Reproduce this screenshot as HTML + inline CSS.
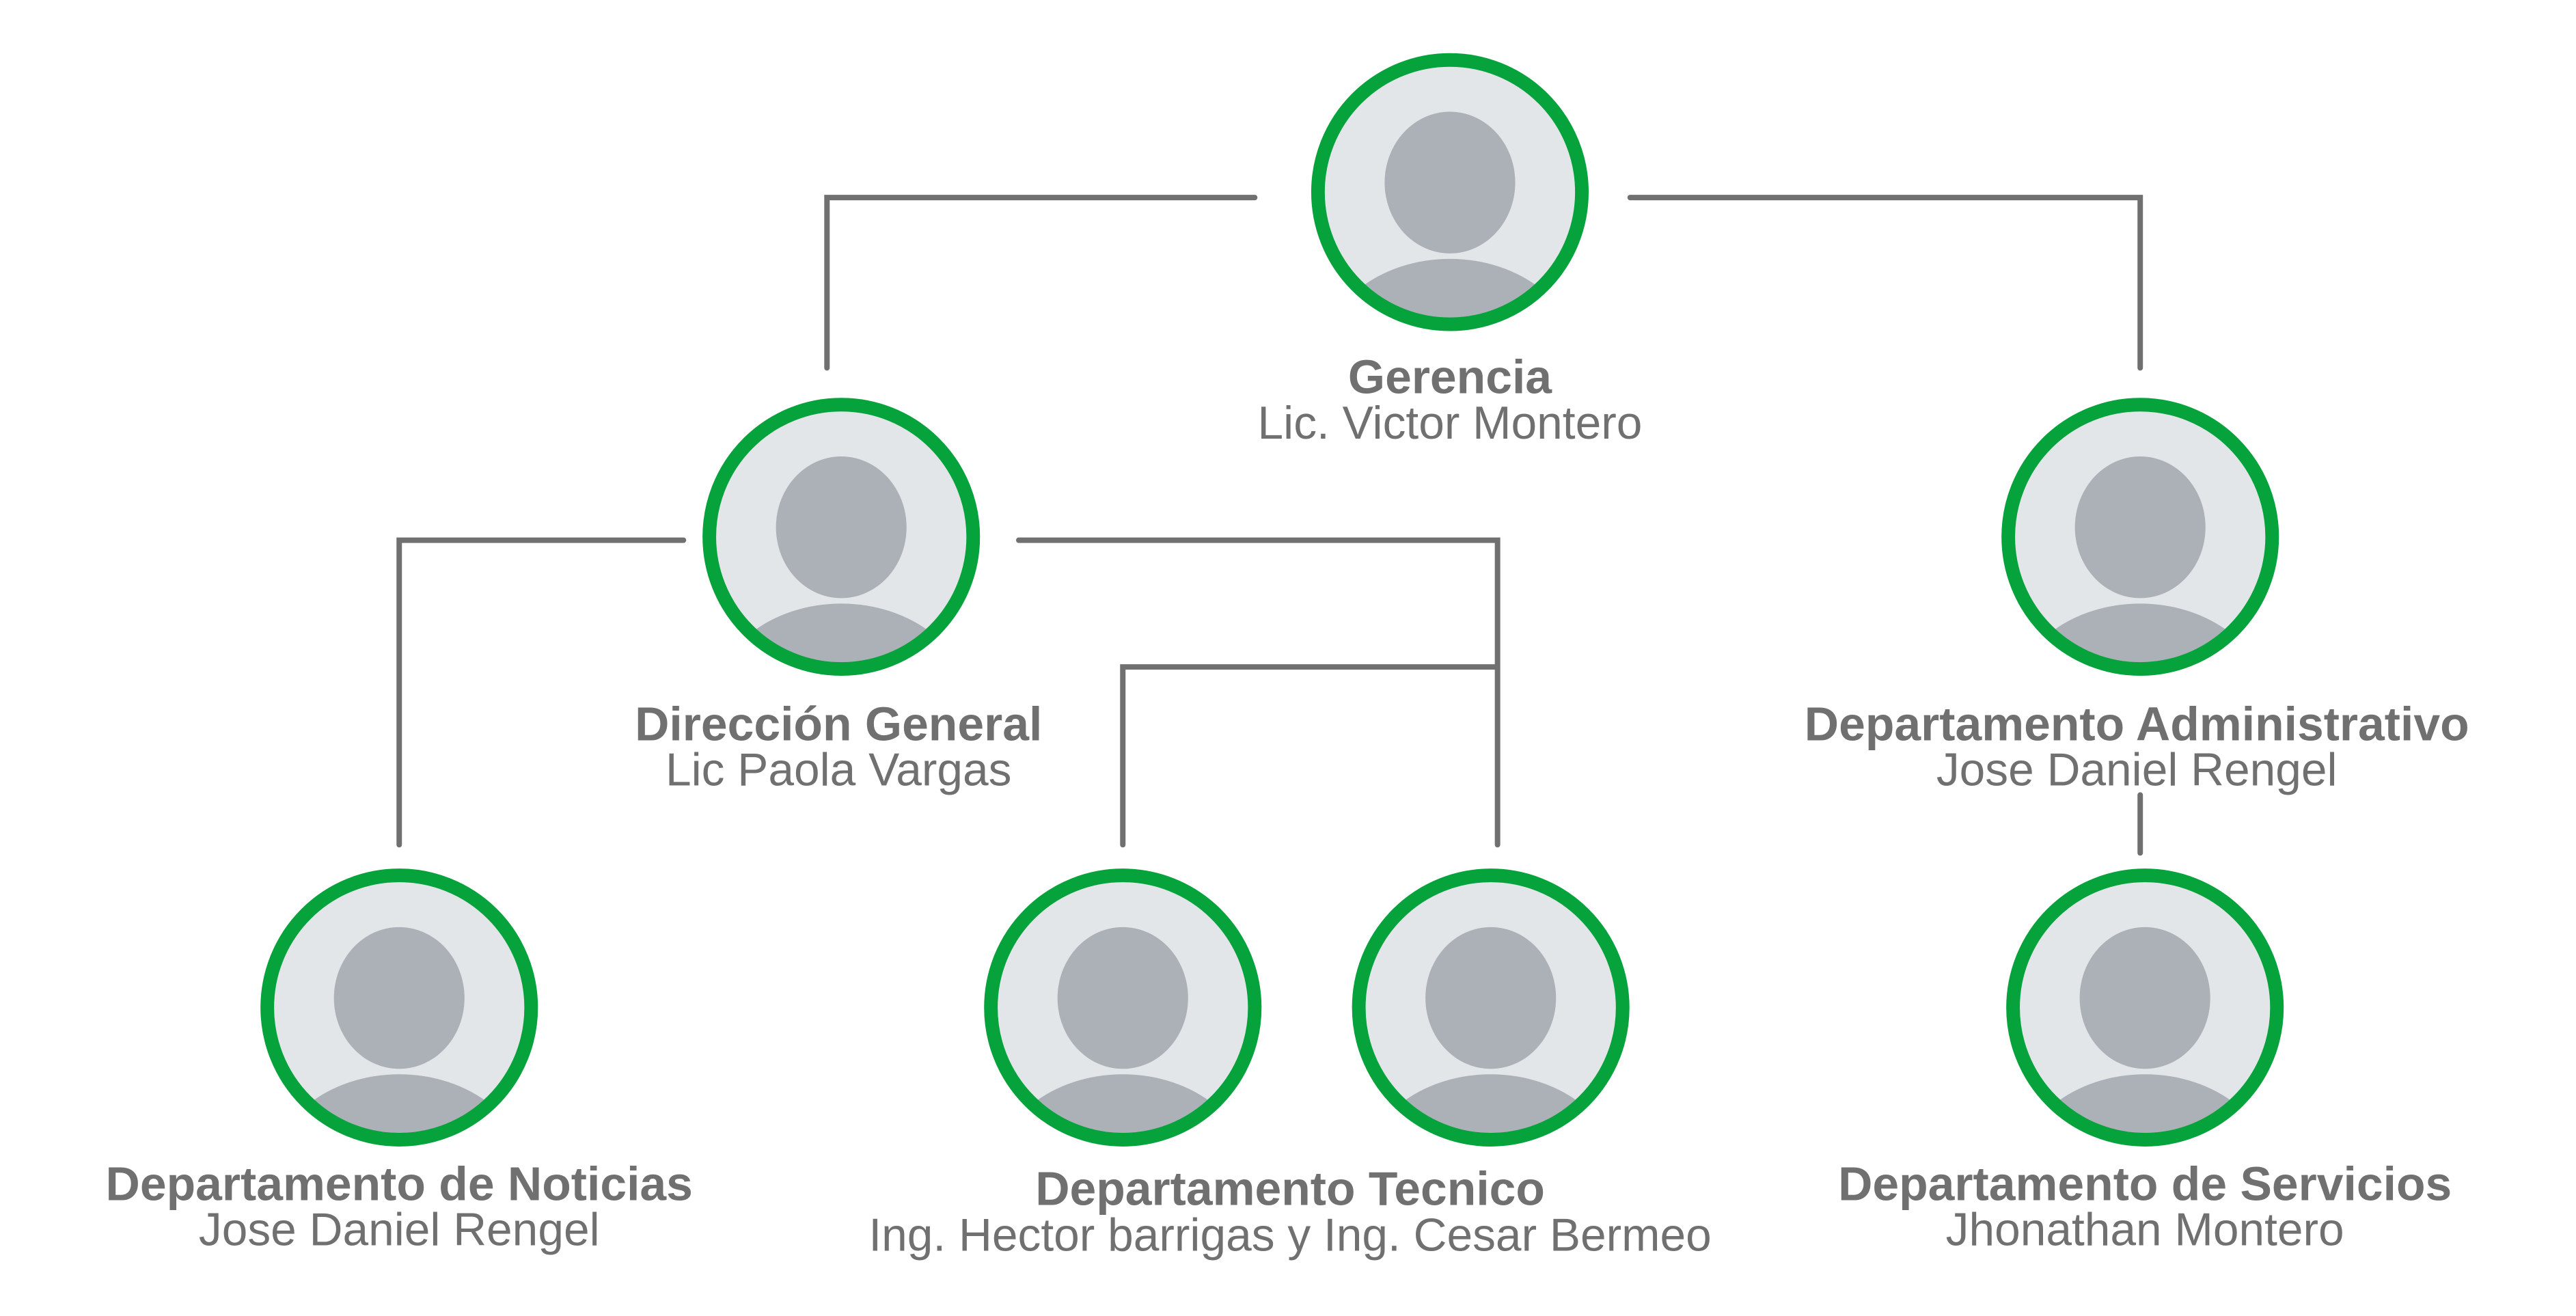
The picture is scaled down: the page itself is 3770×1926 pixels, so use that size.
<!DOCTYPE html>
<html><head><meta charset="utf-8"><style>
html,body{margin:0;padding:0;background:#fff;}
svg{display:block;}
text{font-family:"Liberation Sans",sans-serif;fill:#707070;text-anchor:middle;}
.b{font-weight:bold;font-size:70px;}
.r{font-size:68px;}
</style></head><body>
<svg width="3770" height="1926" viewBox="0 0 3770 1926" xmlns="http://www.w3.org/2000/svg">
<defs>
<g id="av">
<clipPath id="cp"><circle cx="0" cy="0" r="188"/></clipPath>
<circle cx="0" cy="0" r="194" fill="#e3e6e8"/>
<g clip-path="url(#cp)">
<ellipse cx="0" cy="-14" rx="96" ry="104" fill="#acb1b7"/>
<ellipse cx="0" cy="250" rx="190" ry="152" fill="#acb1b7"/>
</g>
<circle cx="0" cy="0" r="194" fill="none" stroke="#06a33d" stroke-width="20"/>
</g>
</defs>
<g transform="scale(0.9953,0.997)">
<g fill="none" stroke="#707070" stroke-width="8" stroke-linecap="round">
<polyline points="1845,290 1216,290 1216,540"/>
<polyline points="2397,290 3147,290 3147,540"/>
<polyline points="1005,793 587,793 587,1240"/>
<polyline points="1498,793 2202,793 2202,1240"/>
<polyline points="2202,979 1651,979 1651,1240"/>
<line x1="3147" y1="1167" x2="3147" y2="1252"/>
</g>
<use href="#av" x="2132" y="282"/>
<use href="#av" x="1237" y="788"/>
<use href="#av" x="3147" y="788"/>
<use href="#av" x="587" y="1479"/>
<use href="#av" x="1651" y="1479"/>
<use href="#av" x="2192" y="1479"/>
<use href="#av" x="3154" y="1479"/>
<text class="b" x="2132" y="577">Gerencia</text>
<text class="r" x="2132" y="644">Lic. Victor Montero</text>
<text class="b" x="1233" y="1087">Dirección General</text>
<text class="r" x="1233" y="1153">Lic Paola Vargas</text>
<text class="b" x="3142" y="1087">Departamento Administrativo</text>
<text class="r" x="3142" y="1153">Jose Daniel Rengel</text>
<text class="b" x="587" y="1762">Departamento de Noticias</text>
<text class="r" x="587" y="1828">Jose Daniel Rengel</text>
<text class="b" x="1897" y="1769">Departamento Tecnico</text>
<text class="r" x="1897" y="1836">Ing. Hector barrigas y Ing. Cesar Bermeo</text>
<text class="b" x="3154" y="1762">Departamento de Servicios</text>
<text class="r" x="3154" y="1828">Jhonathan Montero</text>
</g>
</svg>
</body></html>
